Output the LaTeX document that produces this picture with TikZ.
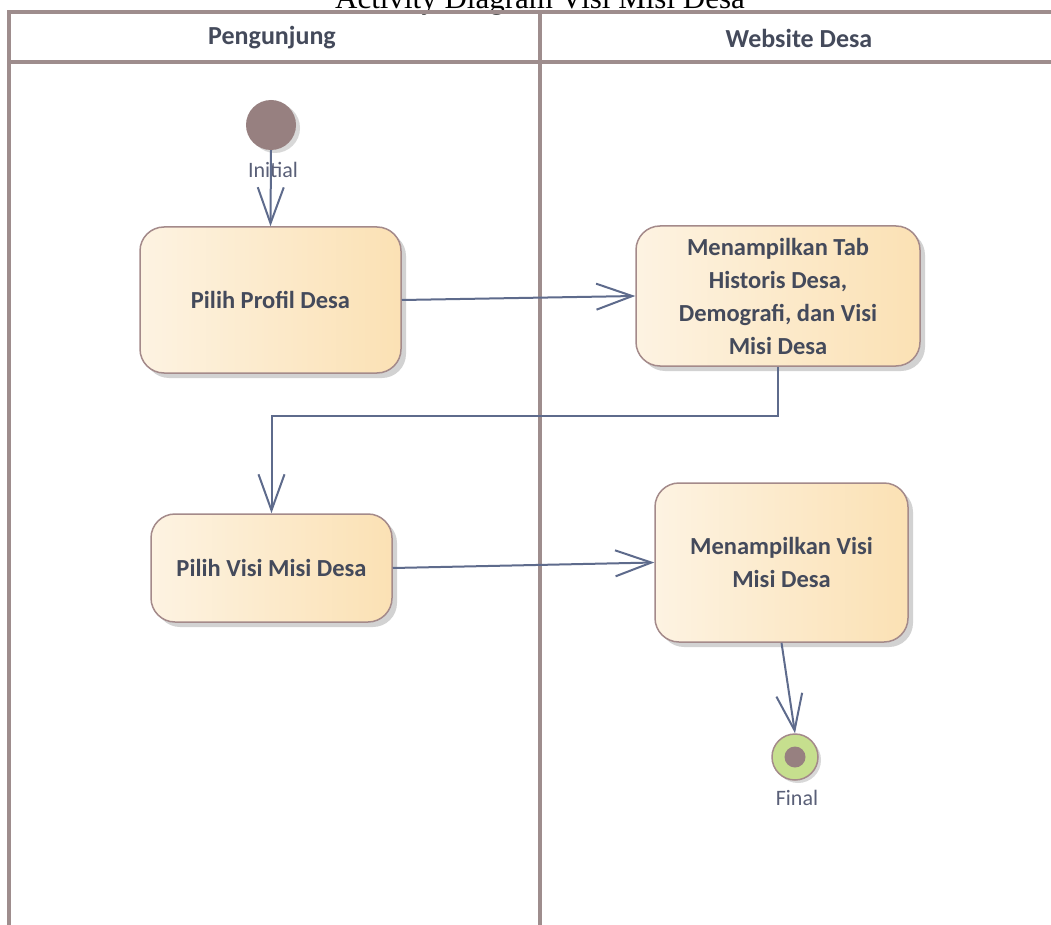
\documentclass[tikz,border=0pt]{standalone}
\usepackage{fontspec}
\setmainfont{Carlito}
\newfontfamily\titlefont{Liberation Serif}
\usetikzlibrary{arrows.meta,shadows}
\definecolor{lanecol}{HTML}{9E8D8D}
\definecolor{boxborder}{HTML}{A48A8A}
\definecolor{boxleft}{HTML}{FDF3E2}
\definecolor{boxright}{HTML}{FBE1B4}
\definecolor{txtcol}{HTML}{444A5B}
\definecolor{flowcol}{HTML}{5E6B8C}
\definecolor{initcol}{HTML}{978080}
\definecolor{fingreen}{HTML}{C6DF8E}
\definecolor{lblcol}{HTML}{5A6078}
\begin{document}
\begin{tikzpicture}[x=1pt,y=-1pt,
  lane/.style={draw=lanecol,line width=3.5pt},
  hdr/.style={font=\bfseries\fontsize{26}{30}\selectfont,text=txtcol},
  actbox/.style={draw=boxborder,line width=1.5pt,rounded corners=24pt,
    shading=axis,left color=boxleft,right color=boxright,shading angle=90,
    drop shadow={shadow xshift=5pt,shadow yshift=-5pt,fill=black!35,opacity=0.5},
    align=center,text=txtcol,font=\bfseries\fontsize{24.5}{33}\selectfont,inner sep=0pt},
  flow/.style={draw=flowcol,line width=2pt,-{Straight Barb[length=36pt,width=26pt,line width=2pt]}},
  lbl/.style={text=lblcol,font=\fontsize{22}{26}\selectfont,inner sep=0pt}]
\useasboundingbox (0,0) rectangle (1051,925);
\fill[white] (0,0) rectangle (1051,925);
% title
\node[anchor=base,inner sep=0pt,font=\titlefont\fontsize{31}{36}\selectfont] (title) at (540,9) {Activity Diagram Visi Misi Desa};
% swimlanes
\coordinate (tl) at (9,12);
\coordinate (tr) at (1070,12);
\coordinate (bl) at (9,940);
\coordinate (hl) at (9,62);
\coordinate (hr) at (1070,62);
\coordinate (dt) at (540,12);
\coordinate (db) at (540,940);
\draw[lane] (bl) -- (tl) -- (tr);
\draw[lane] (hl) -- (hr);
\draw[lane] (dt) -- (db);
\node[hdr] (h1) at (272,38) {Pengunjung};
\node[hdr] (h2) at (799,38) {Website Desa};
% nodes
\node[circle,fill=initcol,minimum size=50pt,inner sep=0pt,
  drop shadow={shadow xshift=4pt,shadow yshift=-3pt,fill=black!30,opacity=0.5}] (init) at (271,125) {};
\node[lbl] (initlbl) at (273,170) {Initial};
\node[actbox,minimum width=261pt,minimum height=146pt] (a1) at (270.5,300) {Pilih Profil Desa};
\node[actbox,minimum width=284pt,minimum height=140pt] (a2) at (778,296) {Menampilkan Tab\\Historis Desa,\\Demografi, dan Visi\\Misi Desa};
\node[actbox,minimum width=241pt,minimum height=108pt] (a3) at (271.5,568) {Pilih Visi Misi Desa};
\node[actbox,minimum width=253pt,minimum height=159pt] (a4) at (781.5,562.5) {Menampilkan Visi\\Misi Desa};
\node[circle,draw=boxborder,line width=1.5pt,fill=fingreen,minimum size=46pt,inner sep=0pt,
  drop shadow={shadow xshift=3pt,shadow yshift=-3pt,fill=black!30,opacity=0.5}] (fin) at (795,757) {};
\node[circle,fill=initcol,minimum size=21pt,inner sep=0pt] (findot) at (fin) {};
\node[lbl] (finlbl) at (797,798) {Final};
% flows
\draw[flow] (init.south) -- (a1.north);
\draw[flow] (a1.east) -- (a2.west);
\draw[flow] (a2.south) -- ++(0,49) -| (a3.north);
\draw[flow] (a3.east) -- (a4.west);
\draw[flow] (a4.south) -- (fin.north);
\end{tikzpicture}
\end{document}
